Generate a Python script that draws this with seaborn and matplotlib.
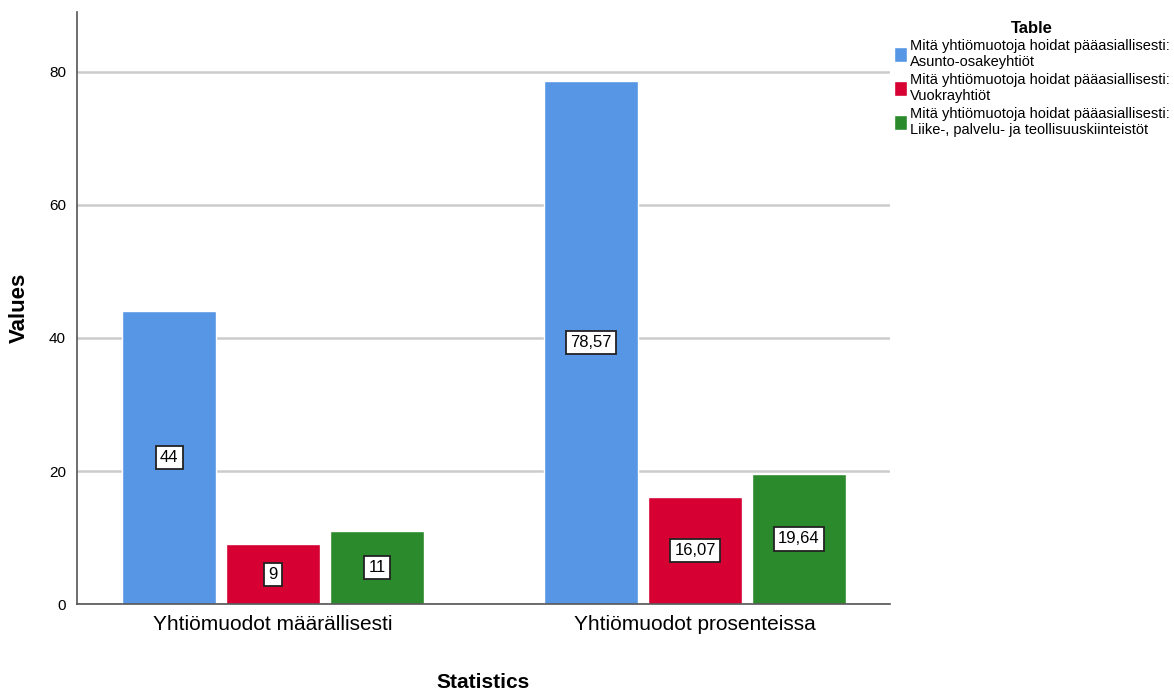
import numpy as np
import pandas as pd
import matplotlib
matplotlib.use("Agg")
import matplotlib.pyplot as plt
import seaborn as sns

statistics = ["Yhtiömuodot määrällisesti", "Yhtiömuodot prosenteissa"]
series = [
    "Mitä yhtiömuotoja hoidat pääasiallisesti:\nAsunto-osakeyhtiöt",
    "Mitä yhtiömuotoja hoidat pääasiallisesti:\nVuokrayhtiöt",
    "Mitä yhtiömuotoja hoidat pääasiallisesti:\nLiike-, palvelu- ja teollisuuskiinteistöt",
]
asunto = [44, 78.57]
vuokra = [9, 16.07]
liike = [11, 19.64]
colors = ["#5796e4", "#d60032", "#2b8a2b"]

rows = []
for name, vals in zip(series, [asunto, vuokra, liike]):
    for stat, v in zip(statistics, vals):
        rows.append({"Statistics": stat, "Table": name, "Values": v})
df = pd.DataFrame(rows)

sns.set_style("white")
plt.rcParams["font.family"] = ["Liberation Sans", "DejaVu Sans"]
plt.rcParams["text.color"] = "black"
plt.rcParams["axes.labelcolor"] = "black"
plt.rcParams["xtick.color"] = "black"
plt.rcParams["ytick.color"] = "black"

fig = plt.figure(figsize=(11.74, 6.93), dpi=100)
ax = fig.add_axes([0.0656, 0.128, 0.6924, 0.855])

sns.barplot(data=df, x="Statistics", y="Values", hue="Table", palette=colors,
            width=0.74, gap=0.1, ax=ax, saturation=1, errorbar=None, zorder=2)

# value labels in the middle of each bar
for container in ax.containers:
    for bar in container:
        h = bar.get_height()
        txt = f"{h:g}".replace(".", ",")
        ax.text(bar.get_x() + bar.get_width() / 2, h / 2, txt,
                ha="center", va="center", fontsize=12, zorder=4,
                bbox=dict(boxstyle="square,pad=0.25", fc="white", ec="#222222", lw=1.3))

ax.set_ylim(0, 89)
ax.set_xlim(-0.465, 0.462 + 1)
ax.set_yticks([0, 20, 40, 60, 80])
ax.yaxis.grid(True, color="#cccccc", lw=1.8, zorder=0)
ax.set_axisbelow(True)
sns.despine(ax=ax)
for s in ["left", "bottom"]:
    ax.spines[s].set_color("#555555")
    ax.spines[s].set_linewidth(1.2)
ax.tick_params(axis="y", labelsize=11, length=0, pad=8)
ax.tick_params(axis="x", labelsize=15, length=0, pad=8)
ax.set_xlabel("Statistics", fontsize=15, fontweight="bold", labelpad=28)
ax.set_ylabel("Values", fontsize=16, fontweight="bold", labelpad=14)

leg = ax.legend(title="Table", loc="upper left", bbox_to_anchor=(0.998, 0.995),
                frameon=False, fontsize=10.5, title_fontproperties={"weight": "bold", "size": 12},
                handlelength=0.9, handleheight=1.2, handletextpad=0.2, labelspacing=0.25,
                borderaxespad=0)
leg._legend_box.align = "center"

fig.savefig("out.png", dpi=100)
